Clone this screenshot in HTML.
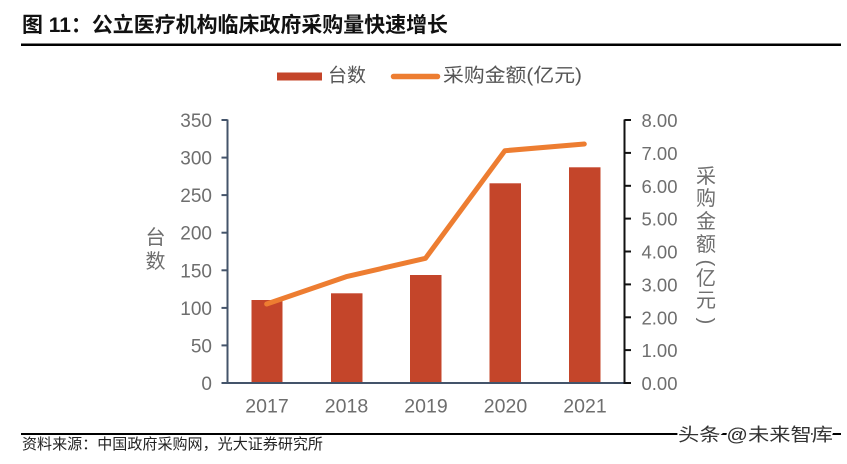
<!DOCTYPE html>
<html>
<head>
<meta charset="utf-8">
<style>
html,body{margin:0;padding:0;background:#fff;}
body{width:847px;height:464px;overflow:hidden;}
svg{display:block;}
.cj{font-family:"Liberation Sans","Noto Sans CJK SC",sans-serif;}
.num{font-family:"Liberation Sans",sans-serif;fill:#6e6e6e;}
</style>
</head>
<body>
<svg width="847" height="464" viewBox="0 0 847 464" xmlns="http://www.w3.org/2000/svg">
  <!-- Title -->
  <text x="22" y="32" class="cj" font-size="21" font-weight="bold" fill="#111" textLength="426" lengthAdjust="spacingAndGlyphs">图 11：公立医疗机构临床政府采购量快速增长</text>
  <rect x="21" y="43.5" width="820" height="2.5" fill="#000"/>

  <!-- Legend -->
  <rect x="277" y="72.5" width="45" height="8" fill="#C4452A"/>
  <text x="328" y="76" class="cj" font-size="19" fill="#555" dominant-baseline="central" textLength="38" lengthAdjust="spacingAndGlyphs">台数</text>
  <line x1="393.5" y1="76.5" x2="437.5" y2="76.5" stroke="#ED7D31" stroke-width="5.5" stroke-linecap="round"/>
  <text x="443" y="76" class="cj" font-size="19" fill="#555" dominant-baseline="central" textLength="139" lengthAdjust="spacingAndGlyphs">采购金额(亿元)</text>

  <!-- Bars -->
  <g fill="#C4452A">
    <rect x="251.5" y="300" width="31" height="83"/>
    <rect x="331" y="293.3" width="31.5" height="89.7"/>
    <rect x="410" y="275" width="31.5" height="108"/>
    <rect x="489.5" y="183.3" width="31.5" height="199.7"/>
    <rect x="569" y="167.3" width="31.5" height="215.7"/>
  </g>

  <!-- Left axis -->
  <g stroke="#44546A" stroke-width="2" fill="none">
    <line x1="227.5" y1="119.5" x2="227.5" y2="383.5"/>
    <line x1="221.5" y1="120" x2="227.5" y2="120"/>
    <line x1="221.5" y1="157.6" x2="227.5" y2="157.6"/>
    <line x1="221.5" y1="195.1" x2="227.5" y2="195.1"/>
    <line x1="221.5" y1="232.7" x2="227.5" y2="232.7"/>
    <line x1="221.5" y1="270.3" x2="227.5" y2="270.3"/>
    <line x1="221.5" y1="307.9" x2="227.5" y2="307.9"/>
    <line x1="221.5" y1="345.4" x2="227.5" y2="345.4"/>
    <line x1="221.5" y1="383" x2="227.5" y2="383"/>
    <line x1="226.5" y1="383" x2="624" y2="383"/>
  </g>
  <g class="num" font-size="19" text-anchor="end">
    <text x="212" y="127">350</text>
    <text x="212" y="164.6">300</text>
    <text x="212" y="202.1">250</text>
    <text x="212" y="239.7">200</text>
    <text x="212" y="277.3">150</text>
    <text x="212" y="314.9">100</text>
    <text x="212" y="352.4">50</text>
    <text x="212" y="390">0</text>
  </g>

  <!-- Right axis -->
  <g stroke="#111" stroke-width="2" fill="none">
    <line x1="624.5" y1="119.5" x2="624.5" y2="384"/>
    <line x1="624.5" y1="120" x2="631" y2="120"/>
    <line x1="624.5" y1="152.9" x2="631" y2="152.9"/>
    <line x1="624.5" y1="185.8" x2="631" y2="185.8"/>
    <line x1="624.5" y1="218.6" x2="631" y2="218.6"/>
    <line x1="624.5" y1="251.5" x2="631" y2="251.5"/>
    <line x1="624.5" y1="284.4" x2="631" y2="284.4"/>
    <line x1="624.5" y1="317.3" x2="631" y2="317.3"/>
    <line x1="624.5" y1="350.1" x2="631" y2="350.1"/>
    <line x1="624.5" y1="383" x2="631" y2="383"/>
  </g>
  <g class="num" font-size="18.5">
    <text x="641.5" y="127" textLength="36" lengthAdjust="spacingAndGlyphs">8.00</text>
    <text x="641.5" y="159.9" textLength="36" lengthAdjust="spacingAndGlyphs">7.00</text>
    <text x="641.5" y="192.8" textLength="36" lengthAdjust="spacingAndGlyphs">6.00</text>
    <text x="641.5" y="225.6" textLength="36" lengthAdjust="spacingAndGlyphs">5.00</text>
    <text x="641.5" y="258.5" textLength="36" lengthAdjust="spacingAndGlyphs">4.00</text>
    <text x="641.5" y="291.4" textLength="36" lengthAdjust="spacingAndGlyphs">3.00</text>
    <text x="641.5" y="324.3" textLength="36" lengthAdjust="spacingAndGlyphs">2.00</text>
    <text x="641.5" y="357.1" textLength="36" lengthAdjust="spacingAndGlyphs">1.00</text>
    <text x="641.5" y="390" textLength="36" lengthAdjust="spacingAndGlyphs">0.00</text>
  </g>

  <!-- X labels -->
  <g class="num" font-size="19.5" text-anchor="middle">
    <text x="267" y="412.5">2017</text>
    <text x="346.5" y="412.5">2018</text>
    <text x="426" y="412.5">2019</text>
    <text x="505.5" y="412.5">2020</text>
    <text x="585" y="412.5">2021</text>
  </g>

  <!-- Line series -->
  <polyline points="266.7,304 346.1,276.7 425.5,258.3 504.9,150.7 584.3,144" fill="none" stroke="#ED7D31" stroke-width="5" stroke-linejoin="round" stroke-linecap="round"/>

  <!-- Left axis title -->
  <g class="cj" font-size="20" fill="#6e6e6e" text-anchor="middle" dominant-baseline="central">
    <text x="155.5" y="238">台</text>
    <text x="155.5" y="262">数</text>
  </g>

  <!-- Right axis title -->
  <g class="cj" font-size="20" fill="#6e6e6e" text-anchor="middle" dominant-baseline="central">
    <text x="706" y="177">采</text>
    <text x="706" y="199">购</text>
    <text x="706" y="222">金</text>
    <text x="706" y="245">额</text>
    <text x="0" y="0" transform="translate(706,263) rotate(90)">(</text>
    <text x="706" y="279">亿</text>
    <text x="706" y="301">元</text>
    <text x="0" y="0" transform="translate(706,321) rotate(90)">)</text>
  </g>

  <!-- Footer -->
  <rect x="21" y="433" width="820" height="2" fill="#000"/>
  <text x="22" y="444.5" class="cj" font-size="15" fill="#222" dominant-baseline="central" textLength="301" lengthAdjust="spacingAndGlyphs">资料来源：中国政府采购网，光大证券研究所</text>
  <text x="678" y="435" class="cj" font-size="18" fill="#333" stroke="#fff" stroke-width="3" paint-order="stroke" dominant-baseline="central" textLength="155" lengthAdjust="spacingAndGlyphs">头条 @未来智库</text>
</svg>
</body>
</html>
